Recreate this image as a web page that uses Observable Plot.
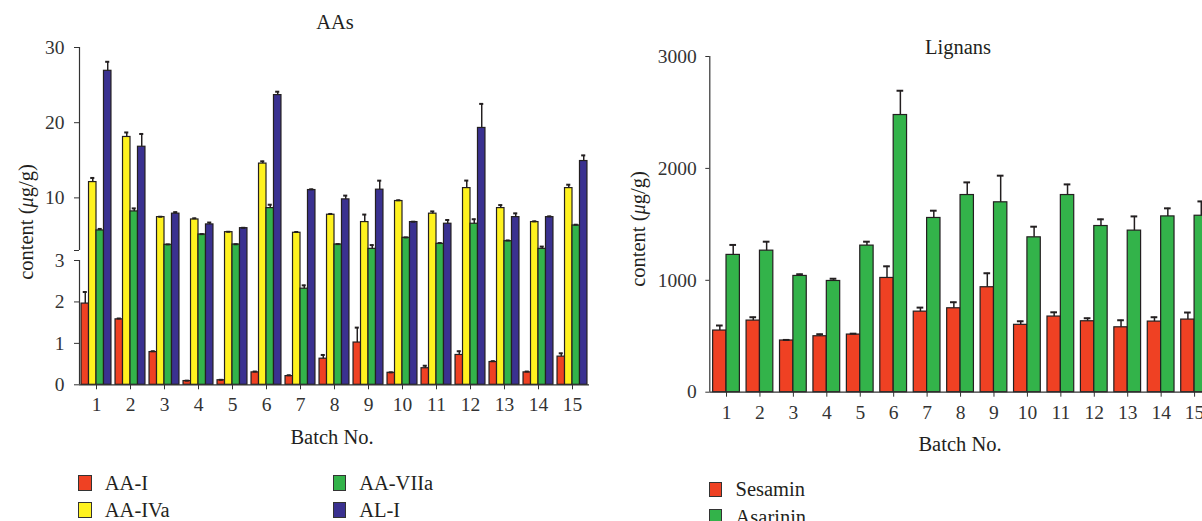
<!DOCTYPE html>
<html><head><meta charset="utf-8">
<script src="https://cdn.jsdelivr.net/npm/d3@7"></script>
<script src="https://cdn.jsdelivr.net/npm/@observablehq/plot@0.6"></script>
<style>
body{margin:0;width:1202px;height:521px;overflow:hidden;background:#fff;font-family:"Liberation Serif",serif;color:#231f20;position:relative}
.t{position:absolute;font-size:20.5px;white-space:nowrap;transform:translate(-50%,-50%)}
.yl{transform:translate(-50%,-50%) rotate(-90deg)}
.sw{position:absolute;border:1.3px solid #333;box-sizing:border-box}
.lt{position:absolute;font-size:20.5px;white-space:nowrap;transform:translateY(-50%)}
#left,#right{position:absolute;top:0}
</style></head><body>
<div id="left" style="left:0"></div>
<div id="right" style="left:600px"></div>
<div class="t" style="left:335px;top:22px">AAs</div>
<div class="t" style="left:958px;top:47px">Lignans</div>
<div class="t" style="left:332px;top:437px">Batch No.</div>
<div class="t" style="left:960px;top:444px">Batch No.</div>
<div class="t yl" style="left:26px;top:222px">content (<i>μ</i>g/g)</div>
<div class="t yl" style="left:638px;top:229px">content (<i>μ</i>g/g)</div>
<div id="legend"></div>
<script>
const batches = [1,2,3,4,5,6,7,8,9,10,11,12,13,14,15];

// AAs (μg/g)
const aaNames = ["AA-I","AA-IVa","AA-VIIa","AL-I"];
const aaColors = ["#EF4123","#FFF21F","#33B34A","#3A3190"];
const AA_I     = [1.96,1.58,0.79,0.09,0.11,0.30,0.21,0.63,1.02,0.29,0.40,0.72,0.55,0.30,0.68];
const AA_I_err = [0.28,0.02,0.02,0.01,0.01,0.02,0.02,0.09,0.36,0.01,0.06,0.09,0.02,0.02,0.08];
const AA_IVa     = [12.1,18.1,7.44,7.13,5.44,14.56,5.36,7.76,6.78,9.58,7.9,11.3,8.64,6.78,11.3];
const AA_IVa_err = [0.55,0.6,0.05,0.15,0.05,0.3,0.1,0.1,1.0,0.1,0.3,1.0,0.4,0.1,0.45];
const AA_VIIa     = [5.67,8.2,3.76,5.13,3.8,8.64,2.32,3.8,3.22,4.69,3.89,6.56,4.24,3.22,6.33];
const AA_VIIa_err = [0.2,0.4,0.05,0.05,0.03,0.45,0.08,0.05,0.5,0.05,0.1,0.6,0.1,0.3,0.1];
const AL_I     = [26.9,16.8,7.9,6.47,5.97,23.67,11.04,9.8,11.09,6.78,6.56,19.3,7.44,7.44,14.9];
const AL_I_err = [1.2,1.7,0.2,0.25,0.05,0.45,0.1,0.5,1.2,0.05,0.5,3.2,0.5,0.1,0.75];
const aaTicks = [0,1,2,3,10,20,30];

// Lignans (μg/g)
const lgNames = ["Sesamin","Asarinin"];
const lgColors = ["#EF4123","#33B34A"];
const Sesamin     = [551,640,462,500,515,1021,720,750,938,602,676,634,580,631,649];
const Sesamin_err = [45,30,5,18,8,104,36,54,125,32,38,27,63,39,63];
const Asarinin     = [1227,1265,1039,994,1310,2477,1557,1762,1697,1384,1762,1485,1444,1571,1577];
const Asarinin_err = [89,80,15,20,35,217,65,113,238,95,95,60,127,72,128];
const lgTicks = [0,1000,2000,3000];

function table(names, vals, errs) {
  const rows = [];
  names.forEach((n, i) => batches.forEach((b, j) => rows.push({batch: b, series: n, i, v: vals[i][j], e: errs[i][j]})));
  return rows;
}
const aaRows = table(aaNames, [AA_I, AA_IVa, AA_VIIa, AL_I], [AA_I_err, AA_IVa_err, AA_VIIa_err, AL_I_err]);
const lgRows = table(lgNames, [Sesamin, Asarinin], [Sesamin_err, Asarinin_err]);

const ink = "#231f20";
const style = {fontFamily: "'Liberation Serif', serif", fontSize: "19.5px", color: "#333", background: "transparent", maxWidth: "none", overflow: "visible"};

// Left: broken axis 0-3 | 3-30
const wL = 0.22;
const xcL = d => d.batch + (d.i - (aaNames.length - 1) / 2) * wL;
const BRK = 3.001;
const left = Plot.plot({
  width: 600, height: 430, marginLeft: 79, marginRight: 11, marginTop: 47, marginBottom: 430 - 384.3,
  style,
  x: {type: "linear", domain: [0.5, 15.5], ticks: batches, tickFormat: d => String(d), tickSize: 5, tickPadding: 7, label: null},
  y: {type: "linear", domain: [0, 3, BRK, 30], range: [384.3, 260, 250, 47], ticks: [...aaTicks, BRK],
      tickFormat: d => d === BRK ? "" : String(d), tickSize: 5, tickPadding: 10, label: null},
  color: {domain: aaNames, range: aaColors},
  marks: [
    Plot.rectY(aaRows, {x1: d => xcL(d) - wL / 2, x2: d => xcL(d) + wL / 2, y1: 0, y2: "v", fill: "series", stroke: ink, strokeWidth: 1.2}),
    Plot.ruleX(aaRows, {x: xcL, y1: "v", y2: d => d.v + d.e, stroke: ink, strokeWidth: 1.5}),
    Plot.ruleY(aaRows, {y: d => d.v + d.e, x1: d => xcL(d) - 0.06, x2: d => xcL(d) + 0.06, stroke: ink, strokeWidth: 2}),
    Plot.ruleX([0.5], {y1: 0, y2: 3, stroke: "#333", strokeWidth: 1.2}),
    Plot.ruleX([0.5], {y1: BRK, y2: 30, stroke: "#333", strokeWidth: 1.2}),
    Plot.ruleY([0], {x1: 0.5, x2: 15.5, stroke: "#333", strokeWidth: 1.2})
  ]
});
document.getElementById("left").append(left);

// Right: Lignans
const wR = 0.4;
const xcR = d => d.batch + (d.i - (lgNames.length - 1) / 2) * wR;
const right = Plot.plot({
  width: 620, height: 430, marginLeft: 109.3, marginRight: 9.2, marginTop: 56, marginBottom: 430 - 391.7,
  style,
  x: {type: "linear", domain: [0.5, 15.5], ticks: batches, tickFormat: d => String(d), tickSize: 5, tickPadding: 8, label: null},
  y: {type: "linear", domain: [0, 3000], ticks: lgTicks, tickFormat: d => String(d), tickSize: 4, tickPadding: 9, label: null},
  color: {domain: lgNames, range: lgColors},
  marks: [
    Plot.rectY(lgRows, {x1: d => xcR(d) - wR / 2, x2: d => xcR(d) + wR / 2, y1: 0, y2: "v", fill: "series", stroke: ink, strokeWidth: 1.2}),
    Plot.ruleX(lgRows, {x: xcR, y1: "v", y2: d => d.v + d.e, stroke: ink, strokeWidth: 1.5}),
    Plot.ruleY(lgRows, {y: d => d.v + d.e, x1: d => xcR(d) - 0.1, x2: d => xcR(d) + 0.1, stroke: ink, strokeWidth: 2}),
    Plot.ruleX([0.5], {y1: 0, y2: 3000, stroke: "#333", strokeWidth: 1.2}),
    Plot.ruleY([0], {x1: 0.5, x2: 15.5, stroke: "#333", strokeWidth: 1.2})
  ]
});
document.getElementById("right").append(right);

// Legends
const lg = document.getElementById("legend");
function legendItem(x, y, w, h, color, label) {
  const s = document.createElement("div");
  s.className = "sw";
  Object.assign(s.style, {left: x + "px", top: y + "px", width: w + "px", height: h + "px", background: color});
  const t = document.createElement("div");
  t.className = "lt";
  Object.assign(t.style, {left: (x + 26.5) + "px", top: (y + h / 2) + "px"});
  t.textContent = label;
  lg.append(s, t);
}
const aaPos = [[78.3, 475], [78.3, 501.7], [332.7, 475], [332.7, 501.7]];
aaNames.forEach((n, i) => legendItem(aaPos[i][0], aaPos[i][1], 13.4, 16, aaColors[i], n));
lgNames.forEach((n, i) => legendItem(709, 481.7 + i * 27.6, 12.7, 15, lgColors[i], n));
</script>
</body></html>
